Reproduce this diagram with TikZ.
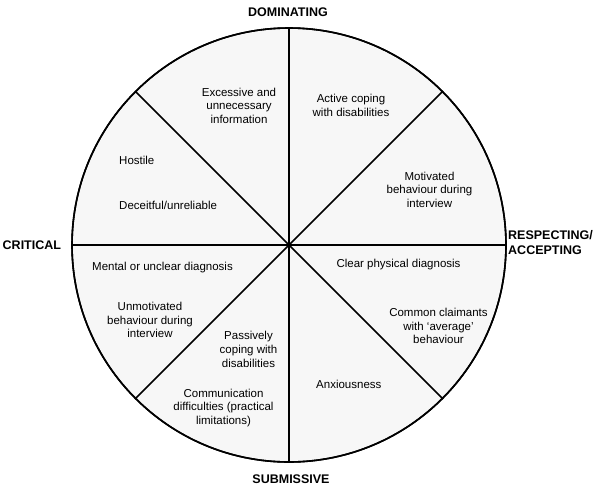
\documentclass[tikz,border=0pt]{standalone}
\usepackage{fontspec}
\setmainfont{Liberation Sans}
\begin{document}
\begin{tikzpicture}[x=1pt,y=-1pt,
  wheelline/.style={line width=1.6pt, draw=black},
  item/.style={align=center, font=\fontsize{11.5}{13.6}\selectfont, inner sep=0pt},
  axislabel/.style={font=\fontsize{12.5}{15}\selectfont\bfseries, inner sep=0pt}]
\useasboundingbox (0,0) rectangle (600,488);
\node[circle, wheelline, fill=black!3, minimum size=434pt, outer sep=0pt, inner sep=0pt] (wheel) at (289,245) {};
\draw[wheelline] (wheel.north) -- (wheel.south);
\draw[wheelline] (wheel.east) -- (wheel.west);
\draw[wheelline] (wheel.45) -- (wheel.225);
\draw[wheelline] (wheel.135) -- (wheel.315);
\draw[wheelline] (wheel.center) circle[radius=217pt];

\node[axislabel] (dom) at (288,12.5) {DOMINATING};
\node[axislabel, anchor=west] (crit) at (2.5,245.5) {CRITICAL};
\node[axislabel, anchor=west, align=left, font=\fontsize{12.5}{15}\selectfont\bfseries] (resp) at (508,242.5) {RESPECTING/\\ACCEPTING};
\node[axislabel] (sub) at (291,479) {SUBMISSIVE};

\node[item] (exc) at (239,105.5) {Excessive and\\unnecessary\\information};
\node[item] (act) at (351,105.5) {Active coping\\with disabilities};
\node[item, anchor=west] (host) at (119,160.7) {Hostile};
\node[item, anchor=west] (dec) at (119,205.7) {Deceitful/unreliable};
\node[item] (mot) at (429.5,189.5) {Motivated\\behaviour during\\interview};
\node[item] (ment) at (162.5,267.3) {Mental or unclear diagnosis};
\node[item] (unm) at (150,320) {Unmotivated\\behaviour during\\interview};
\node[item] (pass) at (248.5,349.3) {Passively\\coping with\\disabilities};
\node[item] (comm) at (223.5,407.8) {Communication\\difficulties (practical\\limitations)};
\node[item] (clear) at (398.5,264.2) {Clear physical diagnosis};
\node[item] (common) at (438.5,326) {Common claimants\\with ‘average’\\behaviour};
\node[item] (anx) at (348.8,384.7) {Anxiousness};
\end{tikzpicture}
\end{document}
